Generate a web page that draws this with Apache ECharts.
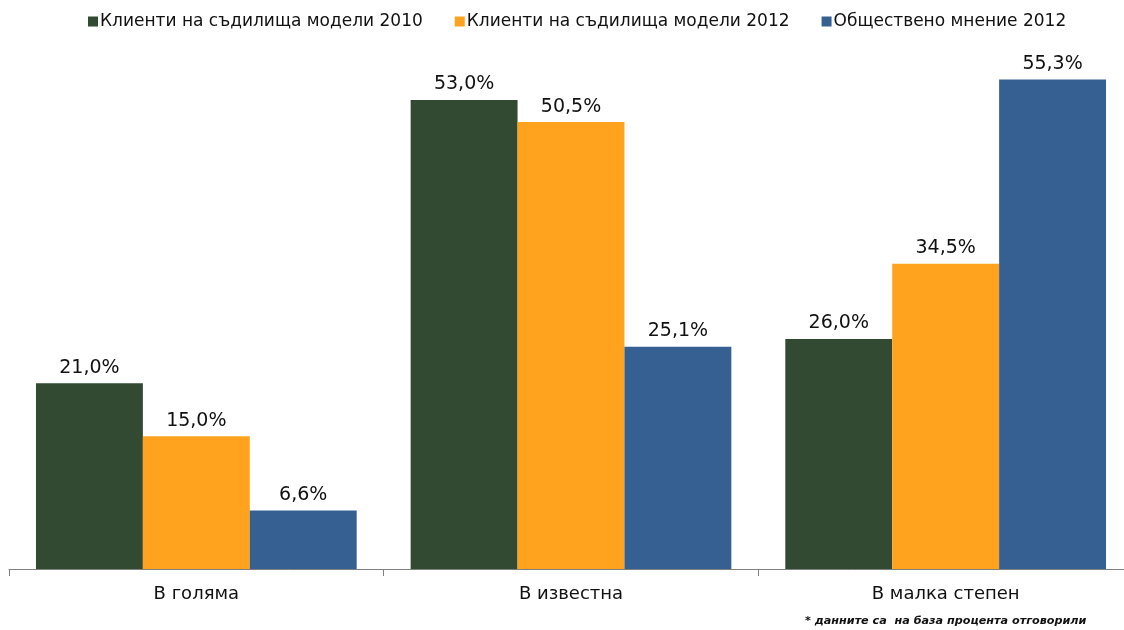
<!DOCTYPE html>
<html>
<head>
<meta charset="utf-8">
<script src="https://cdn.jsdelivr.net/npm/echarts@6/dist/echarts.min.js"></script>
<style>
  html, body { margin: 0; padding: 0; background: #fff; overflow: hidden; }
  /* графиката излиза малко вдясно извън кадъра, както в оригинала */
  #chart { width: 1133px; height: 630px; }
</style>
</head>
<body>
<div id="chart"></div>
<script>
// категории и серии
const categories = ["В голяма", "В известна", "В малка степен"];
const seriesNames = [
  "Клиенти на съдилища модели 2010",
  "Клиенти на съдилища модели 2012",
  "Обществено мнение 2012",
];
const courts2010 = [21.0, 53.0, 26.0];
const courts2012 = [15.0, 50.5, 34.5];
const publicOpinion2012 = [6.6, 25.1, 55.3];
const colors = ["#314A31", "#FFA31F", "#366092"];

const font = "Verdana, 'DejaVu Sans', sans-serif";
const chart = echarts.init(document.getElementById("chart"));

// подпис над стълба: 21,0%
const labelFmt = p => p.value.toFixed(1).replace(".", ",") + "%";

const makeSeries = (name, data, color) => ({
  name,
  type: "bar",
  data,
  barGap: "0%",
  barCategoryGap: "14.4%",
  itemStyle: { color },
  label: {
    show: true,
    position: "top",
    distance: 6,
    formatter: labelFmt,
    fontFamily: font,
    fontSize: 19,
    color: "#111",
  },
});

chart.setOption({
  animation: false,
  color: colors,
  legend: {
    top: 8,
    left: 83,
    itemWidth: 10,
    itemHeight: 10,
    itemGap: 32,
    icon: "rect",
    textStyle: { fontFamily: font, fontSize: 17, color: "#111", padding: [0, 0, 0, -3] },
    data: seriesNames,
  },
  grid: { left: 9, right: 0, top: 38, bottom: 61, containLabel: false },
  xAxis: {
    type: "category",
    data: categories,
    axisLine: { lineStyle: { color: "#808080", width: 1 } },
    axisTick: { show: true, length: 7, lineStyle: { color: "#808080" } },
    axisLabel: { fontFamily: font, fontSize: 18, color: "#111", margin: 16 },
  },
  yAxis: {
    type: "value",
    min: 0,
    max: 60,
    show: false,
    splitLine: { show: false },
  },
  series: [
    makeSeries(seriesNames[0], courts2010, colors[0]),
    makeSeries(seriesNames[1], courts2012, colors[1]),
    makeSeries(seriesNames[2], publicOpinion2012, colors[2]),
  ],
  graphic: [
    {
      type: "text",
      left: 805,
      top: 616,
      style: {
        text: "* данните са  на база процента отговорили",
        fontFamily: font,
        fontSize: 11.2,
        fontStyle: "italic",
        fontWeight: "bold",
        fill: "#111",
      },
    },
  ],
});
</script>
</body>
</html>
